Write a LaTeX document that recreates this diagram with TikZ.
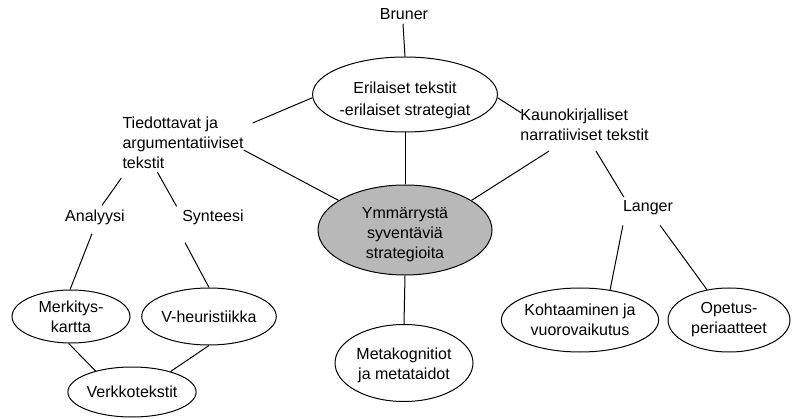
\documentclass[tikz,border=0pt]{standalone}
\usepackage{fontspec}
\setmainfont{Liberation Sans}
\usetikzlibrary{shapes.geometric,calc}
\begin{document}
\begin{tikzpicture}[x=1pt,y=-1pt,
  every node/.style={font=\fontsize{16}{20}\selectfont, inner sep=0pt, align=center},
  oval/.style={draw, ellipse, line width=1pt, inner sep=0pt},
  label/.style={align=left},
  link/.style={line width=1pt}]
\useasboundingbox (0,0) rectangle (792,419);

% text labels
\node (bruner) at (404,14) {Bruner};
\node[label] (tied) at (183,143) {Tiedottavat ja\\argumentatiiviset\\tekstit};
\node[label] (kauno) at (584.5,125) {Kaunokirjalliset\\narratiiviset tekstit};
\node (langer) at (648,208) {Langer};
\node (analyysi) at (95,217) {Analyysi};
\node (synteesi) at (213,217) {Synteesi};

% ellipses
\node[oval, minimum width=174pt, minimum height=75pt] (erl) at (405,94.5) {\rule{0pt}{23.7pt}Erilaiset tekstit\\[2pt]-erilaiset strategiat};
\node[oval, fill=black!28, minimum width=174pt, minimum height=90pt] (ymm) at (405,230) {\rule{0pt}{19.7pt}Ymmärrystä\\syventäviä\\strategioita};
\node[oval, minimum width=138pt, minimum height=77pt] (meta) at (404,363) {\rule{0pt}{15.7pt}Metakognitiot\\ja metataidot};
\node[oval, minimum width=156pt, minimum height=64pt] (koht) at (580,320) {Kohtaaminen ja\\vuorovaikutus};
\node[oval, minimum width=122pt, minimum height=64pt] (opet) at (729,320) {Opetus-\\periaatteet};
\node[oval, minimum width=118pt, minimum height=53pt] (merk) at (71,316.5) {Merkitys-\\kartta};
\node[oval, minimum width=122pt, minimum height=57pt] (vheur) at (209,316.5) {V-heuristiikka};
\node[oval, minimum width=118pt, minimum height=50pt] (verkko) at (132,392) {Verkkotekstit};

% connectors
\draw[link] ($(bruner.south)+(-1,4)$) -- (erl.north);
\draw[link] (erl.182) -- ($(tied.east)+(9,-20)$);
\draw[link] ($(tied.east)+(0,7)$) -- (ymm.156);
\draw[link] (erl.south) -- (ymm.north);
\draw[link] (erl.-2) -- ($(kauno.north west)+(1,4)$);
\draw[link] ($(kauno.south)+(-35.5,10)$) -- (ymm.24);
\draw[link] ($(kauno.south)+(11.5,10)$) -- ($(langer.north west)+(1,-3.5)$);
\draw[link] ($(langer.south west)+(0,10)$) -- (koht.45);
\draw[link] ($(langer.south east)+(-13,10)$) -- (opet.126);
\draw[link] (ymm.south) -- (meta.north);
\draw[link] ($(tied.south west)+(-1,9)$) -- ($(analyysi.north)+(7,-4)$);
\draw[link] ($(tied.south west)+(35,3)$) -- ($(synteesi.north west)+(-5.5,-3)$);
\draw[link] ($(analyysi.south)+(-3,9)$) -- (merk.92);
\draw[link] ($(synteesi.south)+(-28,18)$) -- (vheur.north);
\draw[link] (merk.-95) -- (verkko.150);
\draw[link] (vheur.-90) -- (verkko.28);
\end{tikzpicture}
\end{document}
